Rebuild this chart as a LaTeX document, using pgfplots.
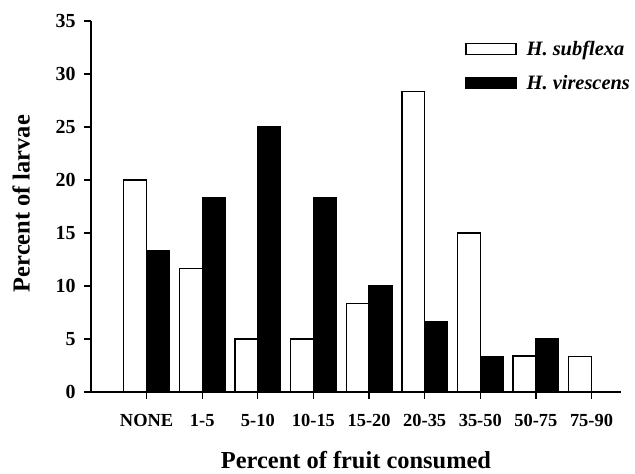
\documentclass[border=0pt]{standalone}
\usepackage{fontspec}
\setmainfont{Liberation Serif}
\usepackage{pgfplots}
\pgfplotsset{compat=1.18}
\begin{document}
\begin{tikzpicture}
\path[use as bounding box] (-91bp,-82bp) rectangle (544bp,392bp);
\begin{axis}[
  at={(0,0)}, anchor=south west,
  scale only axis, width=530bp, height=371bp,
  xmin=0, xmax=9.53, ymin=0, ymax=35,
  axis x line*=bottom, axis y line*=left,
  axis line style={-, line width=1.3bp},
  xtick={1,...,9},
  xticklabels={NONE,1-5,5-10,10-15,15-20,20-35,35-50,50-75,75-90},
  ytick={0,5,...,35},
  tick align=outside, major tick length=7bp,
  tick style={line width=1.2bp, black},
  /pgf/number format/assume math mode=true,
  tick label style={font=\fontsize{18.5}{20}\selectfont\bfseries},
  yticklabel style={font=\fontsize{20}{22}\selectfont\bfseries, xshift=-5bp},
  xticklabel style={yshift=-12bp},
  xlabel={Percent of fruit consumed},
  ylabel={Percent of larvae},
  every axis x label/.style={at={(axis description cs:0.5,-0.183)}, anchor=center,
    font=\fontsize{24.5}{26}\selectfont\bfseries},
  every axis y label/.style={at={(axis description cs:-0.132,0.508)}, anchor=center, rotate=90,
    font=\fontsize{24.5}{26}\selectfont\bfseries},
  legend image code/.code={\draw[#1] (0bp,-5.5bp) rectangle (50bp,5.5bp);},
  legend style={draw=none, fill=none, at={(axis description cs:0.706,0.951)}, anchor=north west,
    font=\fontsize{20.5}{22}\selectfont\bfseries\itshape, row sep=14bp, inner sep=0pt,
    nodes={inner sep=2bp}, cells={anchor=west},
    /tikz/every odd column/.append style={column sep=8bp}},
]
\addplot[ybar, bar width=0.41, bar shift=-0.205, fill=white, draw=black, line width=1.3bp]
  coordinates {(1,20) (2,11.67) (3,5) (4,5) (5,8.33) (6,28.33) (7,15) (8,3.4) (9,3.33)};
\addplot[ybar, bar width=0.41, bar shift=0.205, fill=black, draw=black, line width=1.3bp]
  coordinates {(1,13.33) (2,18.33) (3,25) (4,18.33) (5,10) (6,6.67) (7,3.33) (8,5) (9,0)};
\legend{H. subflexa, H. virescens}
\end{axis}
\end{tikzpicture}
\end{document}
